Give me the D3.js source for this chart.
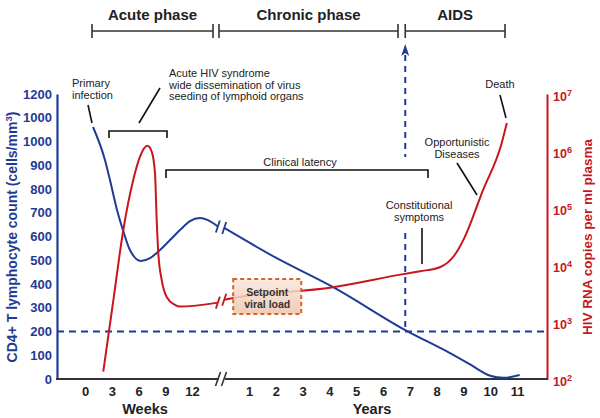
<!DOCTYPE html>
<html><head><meta charset="utf-8">
<script src="https://cdn.jsdelivr.net/npm/d3@7"></script>
<style>
body{margin:0;background:#fff}
svg{display:block;font-family:"Liberation Sans",Arial,Helvetica,sans-serif}
</style>
</head><body>
<svg id="chart" width="600" height="418"></svg>
<script>
// ---------- data ----------
const weekTicks = [0, 3, 6, 9, 12];
const yearTicks = [1, 2, 3, 4, 5, 6, 7, 8, 9, 10, 11];
const cd4Ticks = [0, 100, 200, 300, 400, 500, 600, 700, 800, 900, 1000, 1100, 1200];
const cd4TickLabels = ["0", "100", "200", "300", "400", "500", "600", "700", "800", "900", "1000", "1000", "1200"];
const rnaExponents = [2, 3, 4, 5, 6, 7];
const phaseLabels = ["Acute phase", "Chronic phase", "AIDS"];

// CD4 count (cells/mm3): [week, value] and [year, value]
const cd4Weeks = [[0.9,1061],[2.24,922],[2.8,838],[3.59,712],[4.26,627],[5.04,543],[6.28,497],[7.29,509],[8.41,543],[9.53,585],[10.65,627],[11.77,665],[12.89,678],[13.79,669],[14.9,642]];
const cd4Years = [[0.075,636],[2,511],[4.14,387],[6.83,206],[8.5,109],[9.2,65],[10,14],[10.5,5],[11.1,17]];
// HIV RNA (log10 copies/ml): [week, log10] and [year, log10]
const rnaWeeks = [[2.05,2.13],[3.17,3.37],[4.29,4.61],[5.41,5.49],[6.17,5.9],[6.98,6.09],[7.48,5.99],[7.85,5.61],[8.04,4.79],[8.22,4.21],[8.6,3.74],[9.16,3.44],[10.09,3.3],[10.65,3.27],[14.9,3.34]];
const rnaYears = [[0.075,3.39],[0.41,3.42],[4.14,3.61],[6.75,3.84],[7.38,3.89],[8.12,3.96],[8.68,4.18],[9.05,4.49],[9.72,5.3],[10.43,6.14],[10.62,6.49]];
const aidsOnsetYear = 6.83;

// ---------- styles ----------
const BLUE = "#1f3b94", RED = "#c8161e", INK = "#222";

const svg = d3.select("#chart");
const xW = d3.scaleLinear().domain([0, 12]).range([85, 192]);
const xY = d3.scaleLinear().domain([0, 11]).range([222.2, 517]);
const yL = d3.scaleLinear().domain([0, 1200]).range([379, 94]);
const yR = d3.scaleLog().domain([1e2, 1e7]).range([379, 94]);
const X0 = 57, X1 = 547, Y0 = 379;

// gradient for setpoint box
const defs = svg.append("defs");
const g = defs.append("linearGradient").attr("id","sp").attr("x1",0).attr("y1",0).attr("x2",0).attr("y2",1);
g.append("stop").attr("offset","0%").attr("stop-color","#f9e6dc");
g.append("stop").attr("offset","100%").attr("stop-color","#efc3aa");

// ---------- reference dashed lines ----------
svg.append("line").attr("x1", X0).attr("x2", X1 - 2).attr("y1", yL(200)).attr("y2", yL(200))
  .attr("stroke", BLUE).attr("stroke-width", 2).attr("stroke-dasharray", "7,5");
const xa = xY(aidsOnsetYear);
[[55, 157], [233, yL(200)]].forEach(([a, b]) => {
  svg.append("line").attr("x1", xa).attr("x2", xa).attr("y1", a).attr("y2", b)
    .attr("stroke", BLUE).attr("stroke-width", 2).attr("stroke-dasharray", "6,5");
});
svg.append("path").attr("d", `M${xa},44 L${xa+4},56 L${xa},53 L${xa-4},56 Z`).attr("fill", BLUE);

// ---------- axes ----------
const left = svg.append("g").attr("transform", `translate(${X0},0)`)
  .call(d3.axisLeft(yL).tickValues(cd4Ticks).tickFormat((d, i) => cd4TickLabels[i]).tickSize(0).tickPadding(5));
left.select(".domain").attr("stroke", BLUE).attr("stroke-width", 2.2);
left.selectAll("text").attr("fill", BLUE).attr("font-size", 13).attr("font-weight", "bold").attr("font-family", null);

const right = svg.append("g").attr("transform", `translate(${X1},0)`)
  .call(d3.axisRight(yR).tickValues(rnaExponents.map(e => Math.pow(10, e))).tickFormat(() => "").tickSize(0).tickPadding(6));
right.select(".domain").attr("stroke", RED).attr("stroke-width", 2);
right.selectAll(".tick text").each(function(d, i) {
  const t = d3.select(this).attr("fill", RED).attr("font-size", 12.5).attr("font-weight", "bold").attr("font-family", null).attr("dy", "0.5em");
  t.append("tspan").text("10");
  t.append("tspan").attr("dy", "-0.55em").attr("font-size", 9).text(rnaExponents[i]);
});

// bottom baseline with break
svg.append("line").attr("x1", X0 - 1).attr("x2", 219).attr("y1", Y0).attr("y2", Y0).attr("stroke", "#333").attr("stroke-width", 2.2);
svg.append("line").attr("x1", 225).attr("x2", X1 + 1).attr("y1", Y0).attr("y2", Y0).attr("stroke", "#333").attr("stroke-width", 2.2);
[218, 224].forEach(x => svg.append("line").attr("x1", x - 2.5).attr("y1", 386).attr("x2", x + 2.5).attr("y2", 372).attr("stroke", "#333").attr("stroke-width", 1.6));

const bw = svg.append("g").attr("transform", `translate(0,${Y0})`)
  .call(d3.axisBottom(xW).tickValues(weekTicks).tickSize(0).tickPadding(8));
const by = svg.append("g").attr("transform", `translate(0,${Y0})`)
  .call(d3.axisBottom(xY).tickValues(yearTicks).tickSize(0).tickPadding(8));
[bw, by].forEach(a => {
  a.select(".domain").remove();
  a.selectAll("text").attr("fill", INK).attr("font-size", 13).attr("font-weight", "bold").attr("font-family", null);
});
svg.append("text").attr("x", 145).attr("y", 414).attr("text-anchor", "middle").attr("font-size", 14.5).attr("font-weight", "bold").attr("fill", INK).text("Weeks");
svg.append("text").attr("x", 372).attr("y", 414).attr("text-anchor", "middle").attr("font-size", 14.5).attr("font-weight", "bold").attr("fill", INK).text("Years");

// axis titles
const lt = svg.append("text").attr("transform", "translate(17,237) rotate(-90)").attr("text-anchor", "middle")
  .attr("font-size", 14).attr("font-weight", "bold").attr("fill", BLUE);
lt.append("tspan").text("CD4+ T lymphocyte count (cells/mm");
lt.append("tspan").attr("dy", -5).attr("font-size", 9.5).text("3");
lt.append("tspan").attr("dy", 5).text(")");
svg.append("text").attr("transform", "translate(592,237) rotate(-90)").attr("text-anchor", "middle")
  .attr("font-size", 13.5).attr("font-weight", "bold").attr("fill", RED).text("HIV RNA copies per ml plasma");

// ---------- curves ----------
const lineW = (ys) => d3.line().x(d => xW(d[0])).y(d => ys(d[1])).curve(d3.curveMonotoneX);
const lineY = (ys) => d3.line().x(d => xY(d[0])).y(d => ys(d[1])).curve(d3.curveMonotoneX);
const yRl = v => yR(Math.pow(10, v));

function drawCurve(wData, yData, ys, color) {
  svg.append("path").attr("d", lineW(ys)(wData)).attr("fill", "none").attr("stroke", color).attr("stroke-width", 2);
  svg.append("path").attr("d", lineY(ys)(yData)).attr("fill", "none").attr("stroke", color).attr("stroke-width", 2);
  const a = wData[wData.length - 1], b = yData[0];
  [[xW(a[0]), ys(a[1])], [xY(b[0]), ys(b[1])]].forEach(([x, y]) => {
    svg.append("line").attr("x1", x - 2).attr("y1", y + 6).attr("x2", x + 2).attr("y2", y - 6)
      .attr("stroke", color).attr("stroke-width", 1.8);
  });
}
drawCurve(cd4Weeks, cd4Years, yL, BLUE);
drawCurve(rnaWeeks, rnaYears, yRl, RED);

// setpoint box
svg.append("rect").attr("x", xY(0.41)).attr("y", 279).attr("width", xY(2.95) - xY(0.41)).attr("height", 35)
  .attr("fill", "url(#sp)").attr("fill-opacity", 0.85).attr("stroke", "#d8622c").attr("stroke-width", 2).attr("stroke-dasharray", "4,3");
const spx = (xY(0.41) + xY(2.95)) / 2;
[["Setpoint", 295.5], ["viral load", 307.5]].forEach(([t, y]) =>
  svg.append("text").attr("x", spx).attr("y", y).attr("text-anchor", "middle").attr("font-size", 10.5)
    .attr("font-weight", "bold").attr("fill", "#333").text(t));

// ---------- phases ----------
const phaseSpans = [[92, 213], [219, 398], [xa, 505]];
phaseSpans.forEach(([a, b], i) => {
  svg.append("path").attr("d", `M${a},24V38M${a},31H${b}M${b},24V38`).attr("fill", "none").attr("stroke", "#333").attr("stroke-width", 1.6);
  svg.append("text").attr("x", (a + b) / 2).attr("y", 20).attr("text-anchor", "middle").attr("font-size", 15)
    .attr("font-weight", "bold").attr("fill", INK).text(phaseLabels[i]);
});

// ---------- annotations ----------
const ann = (lines, x, y0, anchor, dy) => lines.forEach((t, i) =>
  svg.append("text").attr("x", x).attr("y", y0 + i * dy).attr("text-anchor", anchor).attr("font-size", 11).attr("fill", INK).text(t));
const seg = (x1, y1, x2, y2) => svg.append("line").attr("x1", x1).attr("y1", y1).attr("x2", x2).attr("y2", y2).attr("stroke", "#111").attr("stroke-width", 1.6);
const bracket = (a, b, y, h) => svg.append("path").attr("d", `M${a},${y + h}V${y}H${b}V${y + h}`).attr("fill", "none").attr("stroke", "#111").attr("stroke-width", 1.6);

ann(["Primary", "infection"], 72, 87, "start", 12);
seg(88, 105, 92, 123);
bracket(109, 167, 131, 7);
seg(139, 123, 160, 88);
ann(["Acute HIV syndrome", "wide dissemination of virus", "seeding of lymphoid organs"], 169, 77, "start", 11.5);
bracket(166, 428, 170, 8);
ann(["Clinical latency"], 300, 166, "middle", 12);
ann(["Constitutional", "symptoms"], 419, 209, "middle", 11.5);
seg(422, 228, 422, 264);
ann(["Opportunistic", "Diseases"], 457, 146, "middle", 12);
seg(457, 163, 477, 195);
ann(["Death"], 500, 88, "middle", 12);
seg(500, 95, 506, 118);
</script>
</body></html>
